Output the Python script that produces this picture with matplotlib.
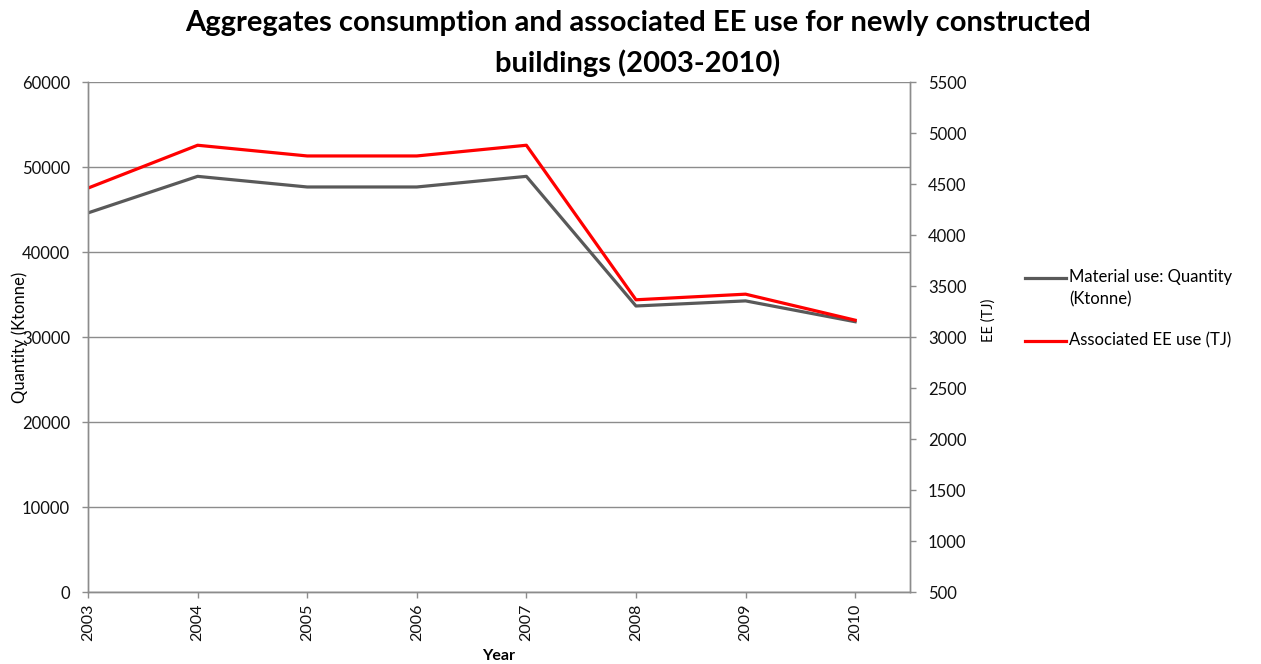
import matplotlib.pyplot as plt
from matplotlib.lines import Line2D
from matplotlib.ticker import MultipleLocator

# Aggregates use and embodied energy, new buildings 2003-2010
years = [2003, 2004, 2005, 2006, 2007, 2008, 2009, 2010]
quantity_kt = [44600, 48900, 47650, 47650, 48900, 33650, 34250, 31800]
ee_tj = [4460, 4880, 4775, 4775, 4880, 3365, 3420, 3165]

series_labels = ['Material use: Quantity\n(Ktonne)', 'Associated EE use (TJ)']
series_colors = ['#595959', '#ff0000']

GRID = '#8c8c8c'
plt.rcParams['font.family'] = ['Lato', 'DejaVu Sans']

fig = plt.figure(figsize=(12.61, 6.64), dpi=100)
ax = fig.add_axes([0.0698, 0.1084, 0.6518, 0.7681])
ax2 = ax.twinx()

ax.plot(years, quantity_kt, color=series_colors[0], linewidth=2.3)
ax2.plot(years, ee_tj, color=series_colors[1], linewidth=2.3)

ax.set_xlim(2003, 2010.5)
ax.set_ylim(0, 60000)
ax2.set_ylim(500, 5500)
ax.yaxis.set_major_locator(MultipleLocator(10000))
ax2.yaxis.set_major_locator(MultipleLocator(500))
ax.set_xticks(years)
ax.set_xticklabels([str(y) for y in years], rotation=90)

ax.grid(axis='y', color=GRID, linewidth=1.0)
ax.set_axisbelow(True)
for a in (ax, ax2):
    a.spines['top'].set_visible(False)
    for side in ('left', 'right', 'bottom'):
        a.spines[side].set_color(GRID)
        a.spines[side].set_linewidth(1.0)
    a.tick_params(axis='y', colors=GRID, labelcolor='#111111', labelsize=12,
                  length=4, width=1.0, direction='out', pad=9)
ax.tick_params(axis='x', colors=GRID, labelcolor='#111111', labelsize=11.5,
               length=4, width=1.0, direction='out', pad=4)

ax.set_ylabel('Quantity (Ktonne)', fontsize=12)
ax.yaxis.set_label_coords(-0.073, 0.5)
ax2.set_ylabel('EE (TJ)', fontsize=10.5)
ax2.yaxis.set_label_coords(1.087, 0.533)
ax.set_xlabel('Year', fontsize=11.5, fontweight='bold', labelpad=6)

fig.text(0.506, 0.985,
         'Aggregates consumption and associated EE use for newly constructed\nbuildings (2003-2010)',
         ha='center', va='top', fontsize=21, fontweight='bold', linespacing=1.6)

# legend drawn beside the plot area, handle level with the first text line
legend_rows = [0.582, 0.486]
for label, color, y in zip(series_labels, series_colors, legend_rows):
    fig.add_artist(Line2D([0.813, 0.845], [y, y], color=color, linewidth=2.3,
                          transform=fig.transFigure))
    fig.text(0.848, y + 0.013, label, ha='left', va='top', fontsize=12,
             linespacing=1.45)

fig.savefig('out.png', dpi=100)
